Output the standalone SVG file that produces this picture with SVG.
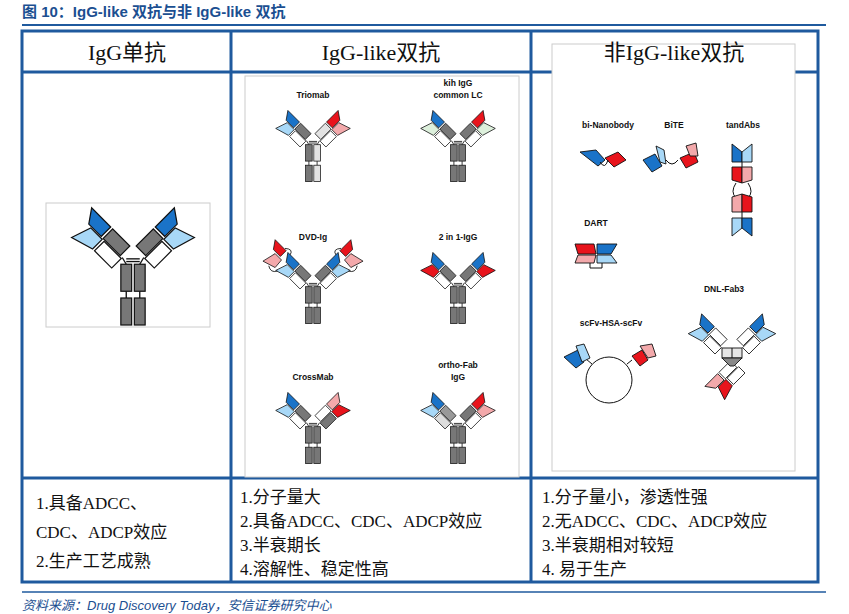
<svg xmlns="http://www.w3.org/2000/svg" width="849" height="614" viewBox="0 0 849 614">
<style>
.t{font-family:"Liberation Serif","Noto Sans CJK SC",serif;fill:#111}
.h{font-size:22px}
.b{font-size:17px}
.lb{font-family:"Liberation Sans",Arial,sans-serif;font-weight:bold;font-size:8.5px;fill:#111;text-anchor:middle}
.d{stroke:#111;stroke-width:0.9}
.ln{stroke:#111;stroke-width:1;fill:none}
.in{fill:#fff;stroke:#ccc;stroke-width:1}
</style>
<defs>
<g id="arm">
<rect x="0" y="-20" width="10" height="18" fill="var(--ch,#777)" class="d"/>
<rect x="-11" y="-18" width="10" height="18" fill="var(--cl,#fff)" class="d"/>
<polygon points="0,-22 10,-22 10,-42 0,-35" fill="var(--vh,#1a73c8)" class="d"/>
<polygon points="-1,-20 -11,-20 -16,-37 -1,-32" fill="var(--vl,#a8d8f7)" class="d"/>
</g>
<g id="half">
<rect x="-9" y="35" width="8" height="20" fill="var(--fc,#777)" class="d"/>
<rect x="-9" y="60" width="8" height="20" fill="var(--fc,#777)" class="d"/>
<line x1="-5" y1="55" x2="-5" y2="60" class="ln" stroke-width="1.6"/>
<line x1="-5" y1="35" x2="-8" y2="30" class="ln"/>
<line x1="-5" y1="31" x2="0" y2="31" class="ln"/>
<line x1="-5" y1="33" x2="0" y2="33" class="ln"/>
<use href="#arm" transform="translate(-8,30) rotate(-45)"/>
</g>
<g id="halfdvd">
<use href="#half"/>
<g transform="translate(-8,30) rotate(-45)">
<polygon points="0,-45 10,-45 10,-64 0,-57" fill="var(--xh,#e8141c)" class="d"/>
<polygon points="-2,-41 -14,-40 -19,-56 -2,-52" fill="var(--xl,#f3a9ab)" class="d"/>
<path d="M10,-38 q8,-2 1,-10 M-15,-35 q-8,-4 -3,-12" class="ln"/>
</g>
</g>
</defs>

<text x="22" y="17" font-family="Liberation Sans,'Noto Sans CJK SC',sans-serif" font-weight="bold" font-size="15" fill="#1b4f91">图 10：IgG-like 双抗与非 IgG-like 双抗</text>
<line x1="22" y1="25" x2="826" y2="25" stroke="#1f5a9e" stroke-width="2"/>

<g id="table" fill="none" stroke="#1f5a9e" stroke-width="3">
<rect x="22" y="31" width="796" height="551"/>
<line x1="231" y1="31" x2="231" y2="582"/>
<line x1="531" y1="31" x2="531" y2="582"/>
<line x1="22" y1="72" x2="818" y2="72"/>
<line x1="22" y1="478" x2="818" y2="478"/>
</g>
<rect x="245" y="76" width="274" height="401" class="in"/>
<rect x="552" y="44" width="243" height="427" class="in"/>
<rect x="46" y="203" width="164" height="124" class="in"/>

<text x="127" y="60" class="t h" text-anchor="middle">IgG单抗</text>
<text x="381" y="60" class="t h" text-anchor="middle">IgG-like双抗</text>
<text x="674" y="60" class="t h" text-anchor="middle">非IgG-like双抗</text>

<g id="igg" transform="translate(133,217) scale(1.35)">
<use href="#half"/><use href="#half" transform="scale(-1,1)"/>
</g>

<text x="313" y="98" class="lb">Triomab</text>
<g id="triomab" transform="translate(313,116) scale(0.82)">
<use href="#half"/>
<use href="#half" transform="scale(-1,1)" style="--vh:#e8141c;--vl:#f3a9ab;--ch:#e2e2e2;--fc:#e2e2e2"/>
</g>
<text x="458" y="86" class="lb">kih IgG</text>
<text x="458" y="98" class="lb">common LC</text>
<g id="kih" transform="translate(458,116) scale(0.82)">
<use href="#half" style="--vl:#ddf0dc"/>
<use href="#half" transform="scale(-1,1)" style="--vh:#e8141c;--vl:#ddf0dc"/>
</g>
<text x="313" y="240" class="lb">DVD-Ig</text>
<g id="dvd" transform="translate(313,258) scale(0.82)">
<use href="#halfdvd"/><use href="#halfdvd" transform="scale(-1,1)"/>
</g>
<text x="458" y="240" class="lb">2 in 1-IgG</text>
<g id="twoin1" transform="translate(458,258) scale(0.82)">
<use href="#half" style="--vl:#e8141c"/><use href="#half" transform="scale(-1,1)" style="--vl:#e8141c"/>
</g>
<text x="313" y="380" class="lb">CrossMab</text>
<g id="crossmab" transform="translate(313,398) scale(0.82)">
<use href="#half"/><use href="#half" transform="scale(-1,1)" style="--vh:#f3a9ab;--vl:#e8141c;--ch:#fff;--cl:#777"/>
</g>
<text x="458" y="368" class="lb">ortho-Fab</text>
<text x="458" y="380" class="lb">IgG</text>
<g id="orthofab" transform="translate(458,398) scale(0.82)">
<use href="#half" style="--ch:#999;--cl:#ddd"/><use href="#half" transform="scale(-1,1)" style="--vh:#e8141c;--vl:#f3a9ab"/>
</g>

<text x="608" y="128" class="lb">bi-Nanobody</text>
<g id="binano">
<polygon points="580,152 596,150 605,160 598,166" fill="#1a73c8" class="d"/>
<polygon points="605,158 618,152 626,160 614,167" fill="#e8141c" class="d"/>
<path d="M600,162 q5,8 8,-2" class="ln"/>
</g>
<text x="674" y="128" class="lb">BiTE</text>
<g id="bite">
<polygon points="643,160 655,154 662,166 652,172" fill="#1a73c8" class="d"/>
<polygon points="656,146 664,150 666,164 660,162" fill="#a8d8f7" class="d"/>
<polygon points="680,158 694,152 698,162 686,168" fill="#e8141c" class="d"/>
<polygon points="686,146 696,143 698,156 690,156" fill="#f3a9ab" class="d"/>
<path d="M666,160 q6,8 12,0" class="ln"/>
</g>
<text x="743" y="128" class="lb">tandAbs</text>
<g id="tandabs">
<polygon points="732,144 742,152 742,162 732,162" fill="#1a73c8" class="d"/>
<polygon points="752,144 742,152 742,162 752,162" fill="#a8d8f7" class="d"/>
<polygon points="732,167 742,167 742,183 732,180" fill="#e8141c" class="d"/>
<polygon points="752,167 742,167 742,183 752,180" fill="#f3a9ab" class="d"/>
<path d="M736,183 q-6,9 0,15 M748,183 q6,9 0,15" class="ln"/>
<polygon points="732,197 742,194 742,212 732,212" fill="#f3a9ab" class="d"/>
<polygon points="752,197 742,194 742,212 752,212" fill="#e8141c" class="d"/>
<polygon points="732,218 742,218 742,228 732,236" fill="#a8d8f7" class="d"/>
<polygon points="752,218 742,218 742,228 752,236" fill="#1a73c8" class="d"/>
<line x1="742" y1="162" x2="742" y2="167" class="ln"/><line x1="742" y1="212" x2="742" y2="218" class="ln"/>
</g>
<text x="596" y="226" class="lb">DART</text>
<g id="dart">
<polygon points="575,244 594,244 596,254 578,254" fill="#e8141c" class="d"/>
<polygon points="597,244 617,244 611,254 597,254" fill="#1a73c8" class="d"/>
<polygon points="578,255 596,255 594,263 575,263" fill="#f3a9ab" class="d"/>
<polygon points="597,255 611,255 617,263 597,263" fill="#a8d8f7" class="d"/>
<path d="M590,263 v5 h12 v-5" class="ln"/>
</g>
<text x="611" y="326" class="lb">scFv-HSA-scFv</text>
<g id="scfvhsa">
<circle cx="609" cy="380" r="23" fill="#fff" stroke="#111" stroke-width="1"/>
<line x1="592" y1="364" x2="586" y2="359" class="ln"/>
<line x1="627" y1="364" x2="632" y2="360" class="ln"/>
<polygon points="564,357 578,350 584,362 576,368" fill="#1a73c8" class="d"/>
<polygon points="576,346 584,344 590,358 582,362" fill="#a8d8f7" class="d"/>
<polygon points="632,356 642,350 648,360 640,366" fill="#e8141c" class="d"/>
<polygon points="640,346 652,344 656,356 648,358" fill="#f3a9ab" class="d"/>
</g>
<text x="724" y="292" class="lb">DNL-Fab3</text>
<g id="dnl">
<use href="#arm" transform="translate(722,347) rotate(-45) scale(0.9)" style="--ch:#fff"/>
<use href="#arm" transform="translate(742,347) scale(-1,1) rotate(-45) scale(0.9)" style="--ch:#fff"/>
<use href="#arm" transform="translate(738,366) rotate(-135) scale(0.9)" style="--ch:#fff;--vh:#f3a9ab;--vl:#e8141c"/>
<rect x="722" y="348" width="20" height="10" fill="#e6e6e6" class="d"/>
<line x1="732" y1="348" x2="732" y2="358" class="ln"/>
<polygon points="722,358 742,358 734,366 730,366" fill="#888" class="d"/>
</g>

<g id="texts" class="t b">
<text x="36" y="509">1.具备ADCC、</text>
<text x="36" y="538">CDC、ADCP效应</text>
<text x="36" y="567">2.生产工艺成熟</text>
<text x="240" y="503">1.分子量大</text>
<text x="240" y="527">2.具备ADCC、CDC、ADCP效应</text>
<text x="240" y="551">3.半衰期长</text>
<text x="240" y="575">4.溶解性、稳定性高</text>
<text x="542" y="503">1.分子量小，渗透性强</text>
<text x="542" y="527">2.无ADCC、CDC、ADCP效应</text>
<text x="542" y="551">3.半衰期相对较短</text>
<text x="542" y="575">4. 易于生产</text>
</g>
<line x1="22" y1="592" x2="826" y2="592" stroke="#1f5a9e" stroke-width="1.5"/>
<text x="22" y="610" font-family="Liberation Sans,'Noto Sans CJK SC',sans-serif" font-style="italic" font-size="13" fill="#1b4f91">资料来源：Drug Discovery Today，安信证券研究中心</text>
</svg>
